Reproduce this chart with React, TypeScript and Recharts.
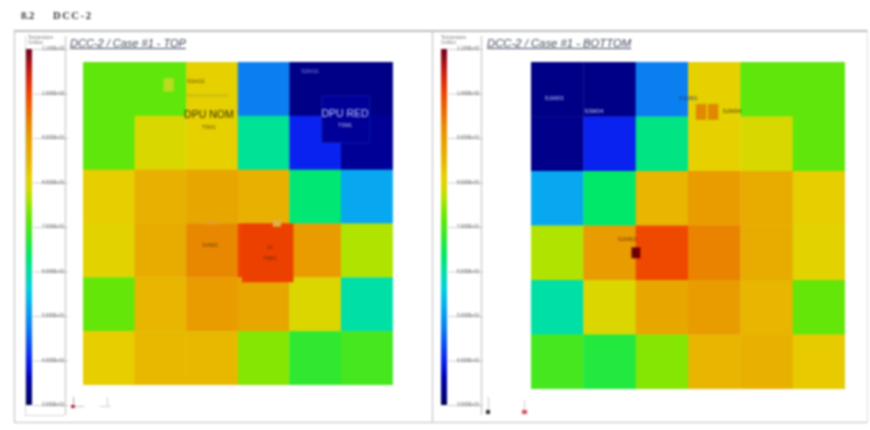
import React from 'react'
import { Bar, BarChart, ReferenceArea, ReferenceDot, Scatter, ScatterChart, XAxis, YAxis } from 'recharts'

// temperature per cell, rows top to bottom
const topTemps = [
  [71.6, 71.6, 81.2, 47.6, 33, 33],
  [71.6, 78.8, 81.2, 61, 40, 34.5],
  [81.5, 86, 88, 86, 63, 52],
  [80.5, 87, 93, 100, 90, 76.4],
  [72, 85, 90, 88, 79.5, 60],
  [81.5, 84.4, 84.4, 74, 67.6, 69.5],
]

const bottomTemps = [
  [33, 33, 47.6, 81.2, 71.6, 71.6],
  [33.5, 40, 62, 81.2, 78.8, 71.6],
  [52, 63.5, 85, 90, 87, 81.5],
  [76.4, 90, 99.5, 93.5, 87, 80.5],
  [60, 79.5, 88, 90, 85, 72],
  [69.5, 66.5, 74, 85, 86, 82],
]

const scaleTicks = [30, 40, 50, 60, 70, 80, 90, 100, 110]
const scaleLabels = ['3.000E+01', '4.000E+01', '5.000E+01', '6.000E+01', '7.000E+01', '8.000E+01', '9.000E+01', '1.000E+02', '1.100E+02']

const colorStops: [number, string][] = [
  [30, '#00004a'], [32, '#000080'], [34, '#00008e'], [36, '#0000b0'], [40, '#0a22f0'],
  [47.6, '#0a80f0'], [52, '#08a8f0'], [56, '#00d0e0'], [60.4, '#00e0a0'], [63.6, '#00e868'],
  [67.6, '#30e830'], [71.6, '#5fe60a'], [74.8, '#90e600'], [76.4, '#b0e400'], [78.8, '#d8d800'],
  [81.2, '#e6d000'], [84.4, '#e8b800'], [86.8, '#e8ac00'], [90, '#e89c00'], [93, '#e88800'],
  [100, '#f04400'], [105, '#c81c10'], [110, '#700020'],
]

const topLabels = [
  { x: 2.19, y: 0.35, text: 'S1H11', color: '#5a5000', size: 6 },
  { x: 2.44, y: 0.97, text: 'DPU NOM', color: '#3c3400', size: 10.5 },
  { x: 2.44, y: 1.21, text: 'T5M1', color: '#6a5a00', size: 5.5 },
  { x: 4.4, y: 0.17, text: 'S2H11', color: '#8090e0', size: 6 },
  { x: 5.08, y: 0.95, text: 'DPU RED', color: '#c0c8f8', size: 10.5 },
  { x: 5.08, y: 1.17, text: 'T3M1', color: '#c0c8f8', size: 5.5 },
  { x: 2.46, y: 3.4, text: 'S4M2', color: '#6a3c00', size: 6 },
  { x: 3.62, y: 3.44, text: 'J1', color: '#702808', size: 6 },
  { x: 3.62, y: 3.64, text: 'T4M1', color: '#702808', size: 5.5 },
]

const topPatches = [
  { x1: 4.63, x2: 5.56, y1: 0.63, y2: 1.5, fill: '#000098', stroke: '#1830b0' },
  { x1: 3.08, x2: 4.08, y1: 3, y2: 4.09, fill: '#ec4000' },
  { x1: 1.56, x2: 1.76, y1: 0.3, y2: 0.55, fill: '#b8dc20' },
  { x1: 2, x2: 2.82, y1: 0.6, y2: 0.64, fill: '#c8bc10' },
  { x1: 3.68, x2: 3.84, y1: 2.92, y2: 3.06, fill: '#e0b040' },
  { x1: 2.38, x2: 2.62, y1: 2.95, y2: 3.02, fill: '#e8a020' },
]

const bottomLabels = [
  { x: 0.44, y: 0.66, text: 'S1M03', color: '#c0c8f8', size: 6 },
  { x: 1.2, y: 0.9, text: 'S3M04', color: '#c0c8f8', size: 6 },
  { x: 3, y: 0.66, text: 'S1M01', color: '#204080', size: 6 },
  { x: 3.84, y: 0.9, text: 'S2M04', color: '#504400', size: 6 },
  { x: 1.84, y: 3.25, text: 'S1M02', color: '#703800', size: 6 },
]

const bottomPatches = [
  { x1: 3.15, x2: 3.35, y1: 0.77, y2: 1.06, fill: '#e08800' },
  { x1: 3.38, x2: 3.58, y1: 0.77, y2: 1.06, fill: '#e08800' },
  { x1: 1.92, x2: 2.09, y1: 3.4, y2: 3.6, fill: '#700000' },
]

function tempColor(t: number) {
  for (let i = 1; i < colorStops.length; i++) {
    const [t1, c1] = colorStops[i - 1]
    const [t2, c2] = colorStops[i]
    if (t <= t2) {
      const k = (t - t1) / (t2 - t1)
      const ch = (c: string, p: number) => parseInt(c.slice(p, p + 2), 16)
      const mix = (p: number) => Math.round(ch(c1, p) + (ch(c2, p) - ch(c1, p)) * k)
      return `rgb(${mix(1)},${mix(3)},${mix(5)})`
    }
  }
  return colorStops[colorStops.length - 1][1]
}

function HeatMap({ temps, labels, patches, left, top, width, height }: any) {
  const cells = temps.flatMap((row: number[], r: number) =>
    row.map((temp, c) => ({ col: c + 0.5, row: r + 0.5, temp }))
  )
  const cellW = width / 6
  const cellH = height / 6
  return (
    <div style={{ position: 'absolute', left, top }}>
      <ScatterChart width={width} height={height} margin={{ top: 0, right: 0, bottom: 0, left: 0 }}>
        <XAxis type="number" dataKey="col" domain={[0, 6]} hide />
        <YAxis type="number" dataKey="row" domain={[0, 6]} reversed hide />
        <Scatter
          data={cells}
          isAnimationActive={false}
          shape={(p: any) => (
            <rect
              x={p.cx - cellW / 2}
              y={p.cy - cellH / 2}
              width={cellW + 0.4}
              height={cellH + 0.4}
              fill={tempColor(p.payload.temp)}
            />
          )}
        />
        {patches.map((p: any, i: number) => (
          <ReferenceArea key={i} zIndex={700} x1={p.x1} x2={p.x2} y1={p.y1} y2={p.y2} fill={p.fill} fillOpacity={1} stroke={p.stroke || 'none'} strokeWidth={0.5} ifOverflow="visible" />
        ))}
        {labels.map((l: any) => (
          <ReferenceDot
            key={l.text}
            zIndex={800}
            x={l.x}
            y={l.y}
            r={0}
            stroke="none"
            ifOverflow="visible"
            label={{ value: l.text, position: 'center', fill: l.color, fontSize: l.size, fontFamily: 'Liberation Sans', zIndex: 900 }}
          />
        ))}
      </ScatterChart>
    </div>
  )
}

function ScaleTick({ x, y, payload }: any) {
  const i = scaleTicks.indexOf(payload.value)
  return (
    <g>
      <line x1={x - 7} x2={x + 28} y1={y + 0.5} y2={y + 0.5} stroke="#9a9a9a" strokeWidth={0.5} />
      <text x={x + 2} y={y + 1} fontSize={4.6} fill="#555" fontFamily="Liberation Sans">{scaleLabels[i]}</text>
    </g>
  )
}

function ColorScale({ id, left }: { id: string; left: number }) {
  return (
    <div style={{ position: 'absolute', left, top: 43 }}>
      <BarChart width={42} height={368} data={[{ name: 'T', range: [30, 110] }]} margin={{ top: 6, right: 0, bottom: 6, left: 0 }} barCategoryGap={0}>
        <defs>
          <linearGradient id={id} x1="0" y1="0" x2="0" y2="1">
            {[...colorStops].reverse().map(([t, c]) => (
              <stop key={t} offset={(110 - t) / 80} stopColor={c} />
            ))}
          </linearGradient>
        </defs>
        <XAxis dataKey="name" hide />
        <YAxis
          orientation="right"
          type="number"
          domain={[30, 110]}
          ticks={scaleTicks}
          width={36}
          axisLine={false}
          tickLine={false}
          interval={0}
          tick={<ScaleTick />}
        />
        <Bar dataKey="range" fill={`url(#${id})`} isAnimationActive={false} />
      </BarChart>
    </div>
  )
}

const line = (left: number, top: number, width: number, height: number, background = '#bdbdbd') => (
  <div style={{ position: 'absolute', left, top, width, height, background }} />
)

const caption = (left: number, size: number, text: string) => (
  <div style={{ position: 'absolute', left, top: 37, fontFamily: 'Liberation Sans', fontStyle: 'italic', fontSize: size, textDecoration: 'underline', color: '#3c4458', whiteSpace: 'nowrap' }}>
    {text}
  </div>
)

const legendHead = (left: number) => (
  <div style={{ position: 'absolute', left, top: 35, fontFamily: 'Liberation Sans', fontSize: 4.5, lineHeight: '5px', color: '#777' }}>
    Temperature<br />Celsius
  </div>
)

const heading = (left: number, spacing: number, text: string) => (
  <div style={{ position: 'absolute', left, top: 10, fontFamily: 'Liberation Serif', fontWeight: 'bold', fontSize: 10.5, letterSpacing: spacing, color: '#333', whiteSpace: 'nowrap' }}>
    {text}
  </div>
)

export default function App() {
  return (
    <div style={{ position: 'absolute', left: 0, top: 0, width: 870, height: 430, overflow: 'hidden', background: '#fff', filter: 'blur(0.9px)' }}>
      {heading(21, 0, '8.2')}
      {heading(53, 1.6, 'DCC-2')}

      {line(14, 30, 854, 1.5)}
      {line(14, 422, 854, 1)}
      {line(14, 30, 1, 393)}
      {line(432, 30, 1, 393)}
      {line(867, 30, 1, 393, '#dddddd')}
      {line(25, 36, 1, 379, '#d8d8d8')}
      {line(65, 36, 1, 379)}
      {line(25, 415, 40, 1, '#d8d8d8')}
      {line(481, 36, 1, 379)}

      {legendHead(28)}
      {legendHead(441)}
      <ColorScale id="scaleTop" left={26} />
      <ColorScale id="scaleBottom" left={441} />

      {caption(70, 11, 'DCC-2 / Case #1 - TOP')}
      {caption(487, 11.3, 'DCC-2 / Case #1 - BOTTOM')}

      <HeatMap temps={topTemps} labels={topLabels} patches={topPatches} left={83} top={62} width={309.5} height={323} />
      <HeatMap temps={bottomTemps} labels={bottomLabels} patches={bottomPatches} left={531} top={62} width={314} height={327} />

      {line(73, 397, 1, 10, '#c8a0a0')}
      {line(71, 405, 4, 3, '#a03040')}
      {line(76, 406, 8, 1, '#e0b0b0')}
      {line(107, 397, 1, 10, '#cfcfcf')}
      {line(100, 406, 11, 1, '#d0d0d0')}
      {line(488, 397, 1, 13, '#c8c8c8')}
      {line(486, 410, 4, 4, '#303030')}
      {line(524, 400, 1, 10, '#e8c8c8')}
      {line(522, 410, 5, 4, '#d05060')}
    </div>
  )
}
